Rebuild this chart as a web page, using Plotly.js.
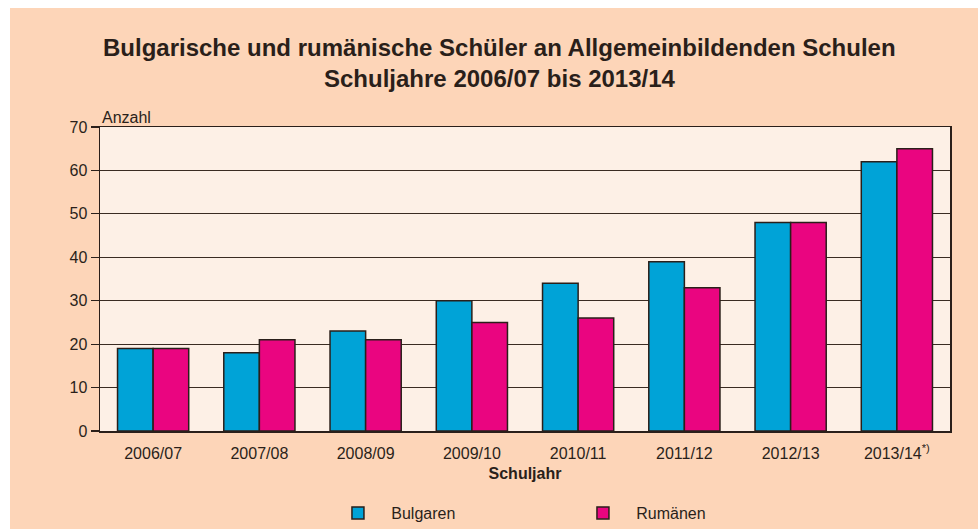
<!DOCTYPE html>
<html>
<head>
<meta charset="utf-8">
<script src="https://cdn.plot.ly/plotly-3.0.1.min.js"></script>
<style>
  html, body { margin: 0; padding: 0; background: #ffffff; width: 978px; height: 529px; overflow: hidden; }
  #chart { position: absolute; left: 10px; top: 8px; width: 968px; height: 521px; }
</style>
</head>
<body>
<div id="chart"></div>
<script>
const categories = ['2006/07', '2007/08', '2008/09', '2009/10', '2010/11', '2011/12', '2012/13', '2013/14'];
const tickLabels = ['2006/07', '2007/08', '2008/09', '2009/10', '2010/11', '2011/12', '2012/13', '2013/14<sup>*)</sup>'];
const seriesNames = ['Bulgaren', 'Rumänen'];
const bulgaren = [19, 18, 23, 30, 34, 39, 48, 62];
const rumaenen = [19, 21, 21, 25, 26, 33, 48, 65];
const yTicks = [0, 10, 20, 30, 40, 50, 60, 70];

const dark = '#2a1f1a';
const font = {family: 'Liberation Sans, Arial, sans-serif', color: dark, size: 16};
const plotH = 521 - 119 - 98;
const pad = '\u00a0\u00a0\u00a0';

const traces = [
  {type: 'bar', name: pad + seriesNames[0], x: categories, y: bulgaren,
   marker: {color: '#00a3d7', line: {color: dark, width: 1.5}}},
  {type: 'bar', name: pad + seriesNames[1], x: categories, y: rumaenen,
   marker: {color: '#ea0580', line: {color: dark, width: 1.5}}}
];

const layout = {
  width: 968, height: 521,
  paper_bgcolor: '#fdd5b8',
  plot_bgcolor: '#fdf0e6',
  font: font,
  margin: {l: 90, r: 28, t: 119, b: 98},
  barmode: 'group',
  bargap: 0.33,
  bargroupgap: 0,
  showlegend: true,
  legend: {orientation: 'h', xref: 'container', yref: 'container',
           x: 0.3388, xanchor: 'left', y: 1 - 505/521, yanchor: 'middle',
           entrywidth: 200, entrywidthmode: 'pixels',
           font: {family: font.family, size: 16, color: dark}, bgcolor: 'rgba(0,0,0,0)'},
  xaxis: {
    tickvals: categories, ticktext: tickLabels,
    showline: true, linecolor: dark, linewidth: 1.5, mirror: true,
    ticks: '', tickfont: {size: 16}, ticklabelstandoff: 7, showgrid: false, automargin: false,
    title: {text: '<b>Schuljahr</b>', font: {size: 16}, standoff: 7}
  },
  yaxis: {
    range: [0, 70], tickvals: yTicks, automargin: false,
    showline: true, linecolor: dark, linewidth: 1.5, mirror: true,
    ticks: 'outside', ticklen: 8, tickcolor: dark, tickwidth: 1.2,
    showgrid: true, gridcolor: '#3a2b22', gridwidth: 1.2,
    zeroline: false, tickfont: {size: 16}
  },
  annotations: [
    {text: '<b>Bulgarische und rumänische Schüler an Allgemeinbildenden Schulen</b>',
     xref: 'paper', yref: 'paper', x: 0.47, y: 1 + 79/plotH, xanchor: 'center', yanchor: 'middle',
     showarrow: false, font: {size: 24, color: dark}},
    {text: '<b>Schuljahre 2006/07 bis 2013/14</b>',
     xref: 'paper', yref: 'paper', x: 0.47, y: 1 + 48/plotH, xanchor: 'center', yanchor: 'middle',
     showarrow: false, font: {size: 24, color: dark}},
    {text: 'Anzahl', xref: 'paper', yref: 'paper', x: 0, y: 1, xanchor: 'left', yanchor: 'bottom',
     xshift: 0, yshift: -1, showarrow: false, font: {size: 16, color: dark}}
  ]
};

Plotly.newPlot('chart', traces, layout, {displayModeBar: false, staticPlot: true});
</script>
</body>
</html>
